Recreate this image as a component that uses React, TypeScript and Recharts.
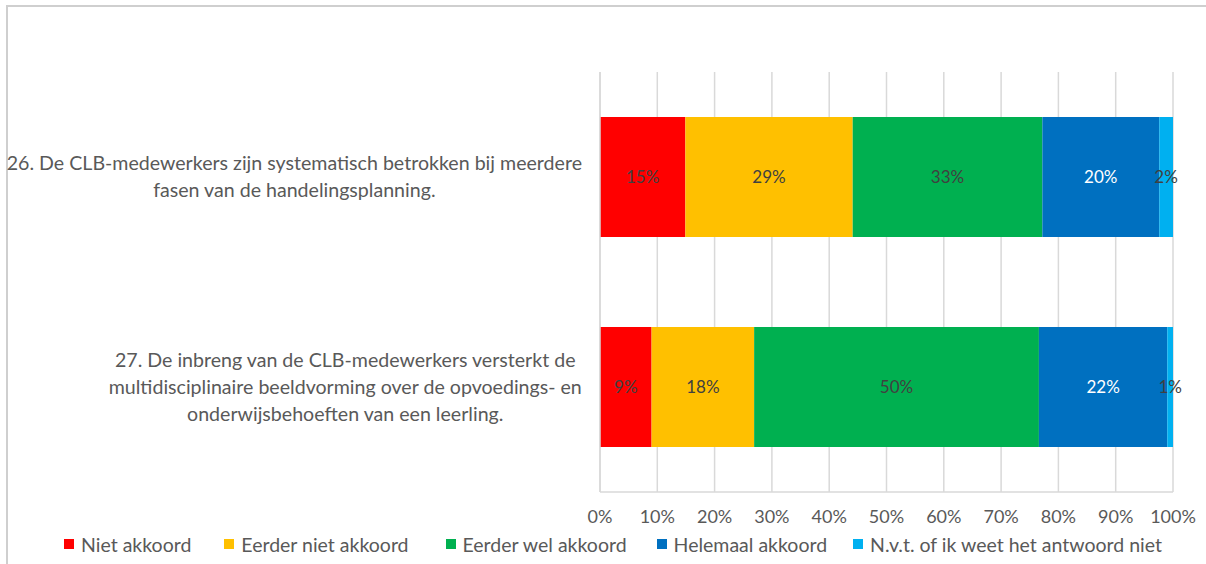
import React from 'react';
import { BarChart, Bar, XAxis, YAxis, CartesianGrid, Legend, LabelList } from 'recharts';

const categoryLines: string[][] = [
  ['26. De CLB-medewerkers zijn systematisch betrokken bij meerdere', 'fasen van de handelingsplanning.'],
  [
    '27. De inbreng van de CLB-medewerkers versterkt de',
    'multidisciplinaire beeldvorming over de opvoedings- en',
    'onderwijsbehoeften van een leerling.',
  ],
];
const categories = categoryLines.map((l) => l.join(' '));

const seriesKeys = ['niet', 'eerderNiet', 'eerderWel', 'helemaal', 'nvt'];
const seriesNames = [
  'Niet akkoord',
  'Eerder niet akkoord',
  'Eerder wel akkoord',
  'Helemaal akkoord',
  'N.v.t. of ik weet het antwoord niet',
];
const seriesColors = ['#FF0000', '#FFC000', '#00B050', '#0070C0', '#00B0F0'];
const labelColors = ['#404040', '#404040', '#404040', '#FFFFFF', '#404040'];

const nietAkkoord = [14.9, 9.0];
const eerderNietAkkoord = [29.2, 17.9];
const eerderWelAkkoord = [33.1, 49.7];
const helemaalAkkoord = [20.4, 22.4];
const nvt = [2.4, 1.0];

const xTicks = [0, 10, 20, 30, 40, 50, 60, 70, 80, 90, 100];

const seriesValues = [nietAkkoord, eerderNietAkkoord, eerderWelAkkoord, helemaalAkkoord, nvt];

const data = categories.map((c, i) => {
  const row: Record<string, string | number> = { category: c };
  seriesKeys.forEach((k, s) => {
    row[k] = seriesValues[s][i];
  });
  return row;
});

const FONT = 'Lato, "Open Sans", sans-serif';
const TEXT = '#595959';
const GRID = '#D9D9D9';
const FRAME = '#CFCFCF';

let ctx: CanvasRenderingContext2D | null = null;
function measure(text: string, size: number): number {
  if (!ctx) ctx = document.createElement('canvas').getContext('2d');
  if (!ctx) return text.length * size * 0.5;
  ctx.font = `${size}px Lato`;
  return ctx.measureText(text).width;
}

const Y_FONT = 19.6;
const Y_LH = 27;

const YTick = (props: any) => {
  const { x, y, payload } = props;
  const idx = categories.indexOf(payload.value);
  const lines = idx >= 0 ? categoryLines[idx] : [String(payload.value)];
  const maxW = Math.max(...lines.map((l) => measure(l, Y_FONT)));
  const cx = x - maxW / 2;
  const startY = y - ((lines.length - 1) * Y_LH) / 2;
  return (
    <text textAnchor="middle" fill={TEXT} fontSize={Y_FONT} fontFamily={FONT}>
      {lines.map((l, i) => (
        <tspan key={i} x={cx} y={startY + i * Y_LH} dy="0.35em">
          {l}
        </tspan>
      ))}
    </text>
  );
};

const legendGaps = [33, 37, 30, 26, 0];

const renderLegend = () => (
  <div
    style={{
      display: 'flex',
      justifyContent: 'flex-start',
      alignItems: 'center',
      height: 24,
      paddingLeft: 64,
      fontFamily: FONT,
      fontSize: 19.5,
      color: TEXT,
      whiteSpace: 'nowrap',
    }}
  >
    {seriesNames.map((n, i) => (
      <div key={n} style={{ display: 'flex', alignItems: 'center', marginRight: legendGaps[i] }}>
        <span
          style={{ display: 'inline-block', width: 10, height: 10, background: seriesColors[i], marginRight: 7 }}
        />
        <span>{n}</span>
      </div>
    ))}
  </div>
);

export default function App() {
  return (
    <div
      style={{
        position: 'fixed',
        left: 0,
        top: 0,
        width: 1206,
        height: 564,
        overflow: 'hidden',
        background: '#fff',
      }}
    >
      <div
        style={{
          position: 'absolute',
          left: 6,
          top: 5,
          right: -20,
          bottom: -20,
          borderTop: `2px solid ${FRAME}`,
          borderLeft: `2px solid ${FRAME}`,
        }}
      />
      <div style={{ position: 'absolute', left: 0, top: 0 }}>
        <BarChart
          width={1206}
          height={564}
          data={data}
          layout="vertical"
          margin={{ top: 72, right: 33, bottom: 8, left: 0 }}
          barCategoryGap={0}
        >
          <CartesianGrid horizontal={false} stroke={GRID} strokeWidth={1.5} />
          <XAxis
            type="number"
            domain={[0, 100]}
            ticks={xTicks}
            tickFormatter={(v: number) => `${v}%`}
            axisLine={{ stroke: GRID, strokeWidth: 1.5 }}
            tickLine={false}
            tickSize={0}
            tickMargin={18}
            height={40}
            tick={{ fill: TEXT, fontSize: 18, fontFamily: FONT }}
            interval={0}
          />
          <YAxis
            type="category"
            dataKey="category"
            width={600}
            axisLine={{ stroke: GRID, strokeWidth: 1.5 }}
            tickLine={false}
            tickSize={0}
            tickMargin={18}
            tick={<YTick />}
            interval={0}
          />
          <Legend verticalAlign="bottom" content={renderLegend} wrapperStyle={{ left: 0, width: 1206 }} />
          {seriesKeys.map((k, s) => (
            <Bar
              key={k}
              dataKey={k}
              name={seriesNames[s]}
              stackId="a"
              fill={seriesColors[s]}
              barSize={120}
              isAnimationActive={false}
            >
              <LabelList
                dataKey={k}
                position="center"
                formatter={(v: any) => `${Math.round(Number(v))}%`}
                fill={labelColors[s]}
                fontSize={17}
                fontFamily={FONT}
              />
            </Bar>
          ))}
        </BarChart>
      </div>
    </div>
  );
}
